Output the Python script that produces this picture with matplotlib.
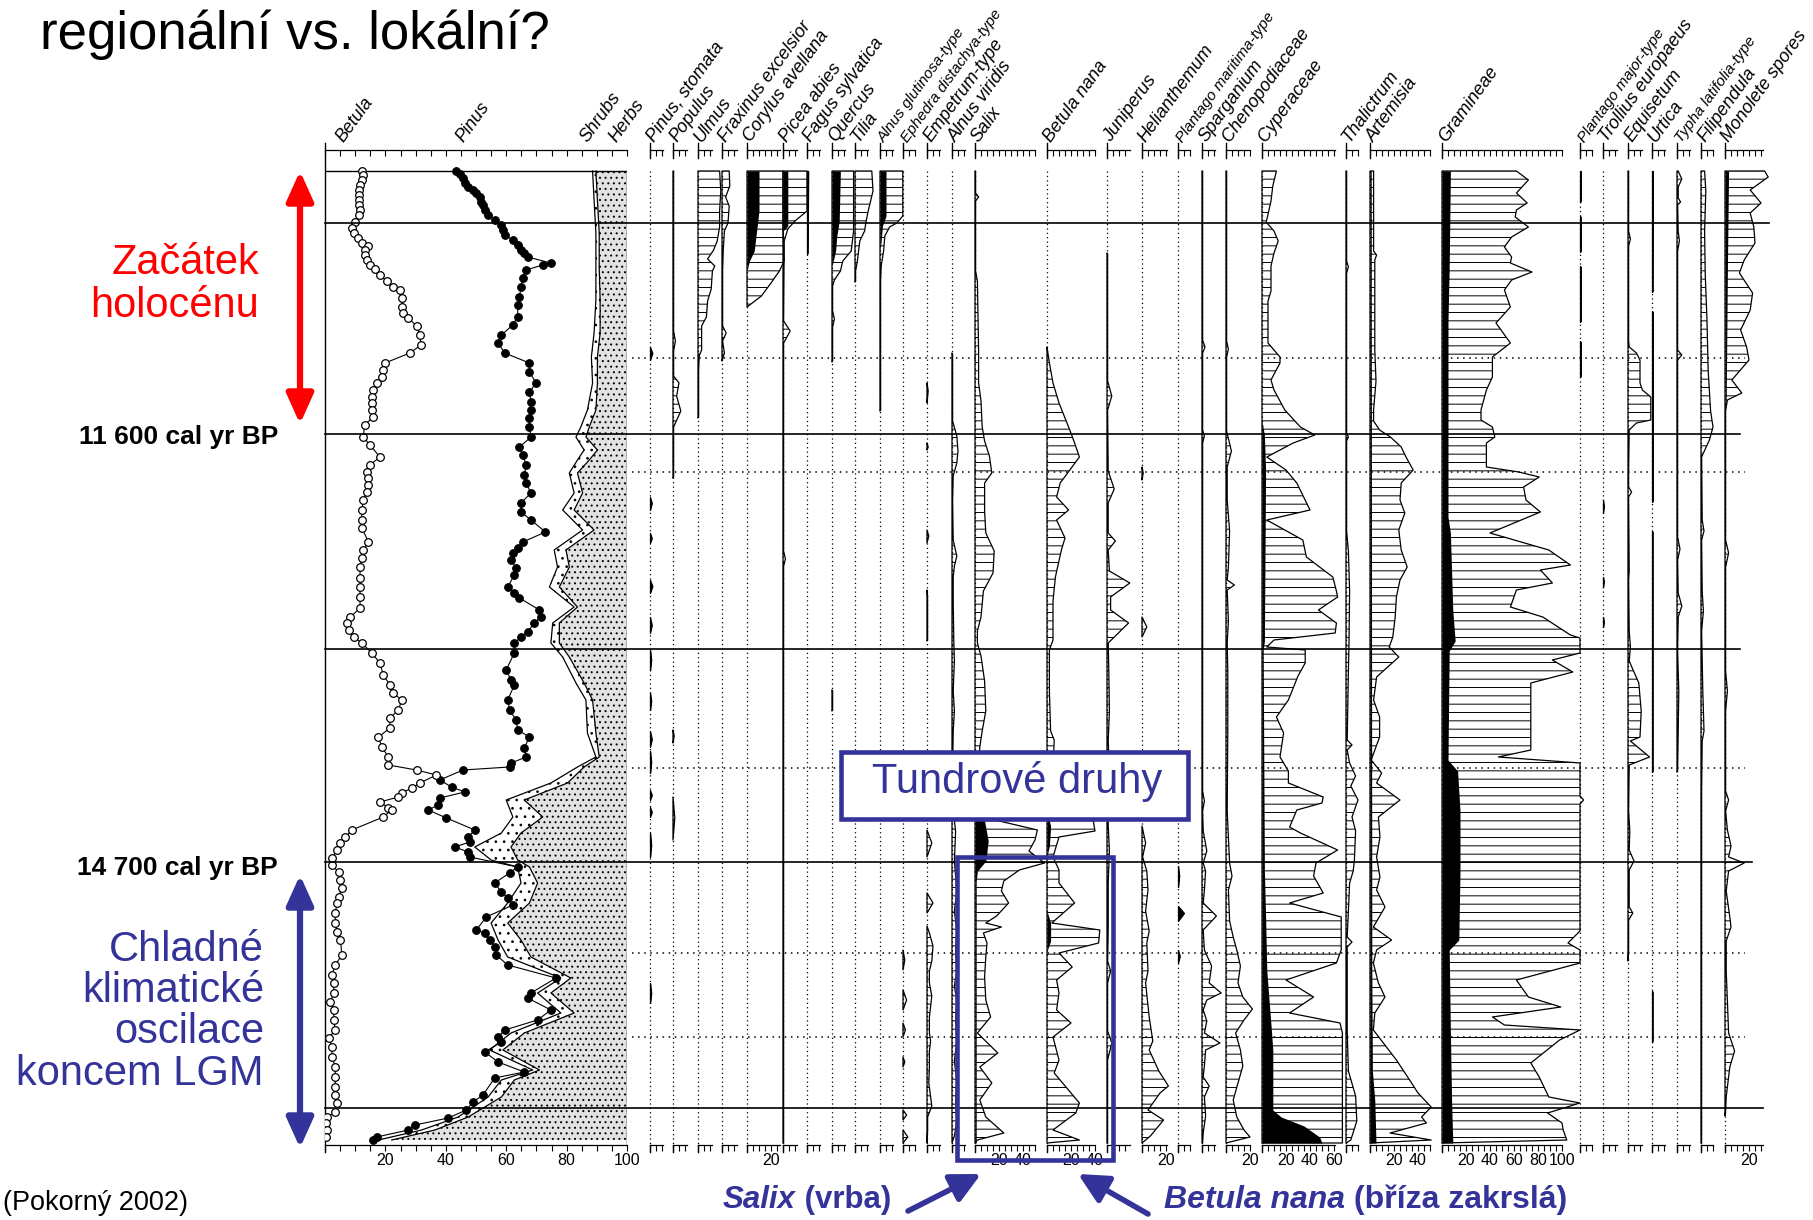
#!/usr/bin/env python3
import matplotlib
matplotlib.use("Agg")
import matplotlib.pyplot as plt
from matplotlib.patches import Rectangle
import numpy as np

plt.rcParams["font.family"] = ["Liberation Sans", "DejaVu Sans"]
plt.rcParams["hatch.linewidth"] = 0.7

W, H = 1813, 1220
TOP, BOT, D0 = 150, 1145, 171     # header axis row, bottom axis row, first sample row (px)
PX_PCT = 1.2                      # px per percent in the taxon panels
BET_X0, BET_W = 325, 302          # Betula/Pinus summary panel
RED = "#ff0000"
BLUE = "#333399"

# depth scale: 0 = top sample, 1 unit = 1 px of the original diagram
ZONES = [52, 263, 478, 691, 937]
ZONE_ENDS = [1769, 1740, 1740, 1752, 1763]
SUBZONES = [187, 301, 597, 782, 866]

# ---- summary diagram (cumulative %) ----
BETULA_DEPTH = [0, 4, 9, 14, 19, 24, 29, 34, 39, 44, 51, 57, 62, 67, 72, 75, 79, 84, 89, 94, 98, 104, 110, 116,
                119, 127, 136, 142, 147, 155, 164, 174, 182, 192, 199, 206, 212, 219, 226, 232, 239, 246, 254,
                266, 274, 286, 294, 301, 307, 314, 321, 329, 339, 349, 357, 371, 379, 387, 396, 407, 416, 426,
                437, 446, 452, 459, 466, 472, 482, 492, 504, 514, 522, 529, 539, 547, 557, 566, 576, 586, 594,
                599, 604, 612, 617, 622, 626, 631, 637, 639, 646, 659, 666, 672, 679, 687, 694, 701, 709, 717,
                726, 732, 742, 752, 761, 769, 784, 794, 804, 812, 822, 831, 839, 849, 859, 867, 876, 886, 896,
                906, 916, 924, 932, 941, 946, 952, 959, 966]
BETULA = [12.2, 12.7, 12.2, 11.6, 11.4, 11.3, 11.1, 11.3, 11.6, 11.1, 10, 9.1, 9.5, 10.9, 12.2, 14.4, 13.1, 13.3,
          13.8, 14.9, 16.6, 18.2, 20.4, 22.6, 24.8, 25.6, 25.4, 25.9, 27.6, 30.3, 31.4, 31.8, 28.1, 19.9, 19.3,
          18.8, 17.1, 16, 15.5, 15.5, 15.5, 16, 13.1, 12.7, 14.9, 18.2, 14.9, 13.8, 14.4, 14.4, 13.8, 12.7, 12.2,
          12.2, 12.2, 14.4, 12.7, 12.2, 11.6, 11.6, 11.6, 11.6, 11.6, 8.4, 7.3, 7.8, 9.5, 12.2, 15.5, 18.2, 19.3,
          21.5, 22.6, 25.4, 24.3, 21.5, 21.5, 17.7, 18.8, 21, 21, 30.3, 36.9, 31.4, 28.7, 25.4, 24.3, 18.2, 21,
          22.1, 19.3, 8.9, 6.7, 5.1, 4, 2.3, 2.3, 4.5, 5.1, 5.6, 4.5, 4, 3.4, 3.4, 4, 5.1, 5.6, 3.4, 2.3, 2.9,
          2.9, 1.8, 2.9, 2.9, 3.4, 1.2, 2.3, 2.3, 3.4, 3.4, 3.4, 3.4, 4, 3.4, 0.7, 0.3, 0.7, 0.3]
PINUS_DEPTH = [0, 3, 7, 12, 16, 19, 22, 26, 31, 34, 39, 44, 49, 54, 59, 64, 69, 74, 79, 82, 86, 92, 94, 99, 107,
               116, 126, 134, 146, 154, 164, 172, 182, 192, 201, 212, 221, 231, 239, 247, 256, 266, 276, 284,
               294, 304, 312, 322, 332, 341, 349, 361, 371, 377, 382, 389, 397, 404, 416, 422, 427, 439, 446,
               452, 461, 466, 472, 482, 499, 509, 514, 529, 539, 549, 559, 566, 577, 586, 592, 596, 599, 609,
               616, 621, 627, 634, 639, 647, 659, 666, 671, 676, 681, 686, 696, 702, 712, 721, 727, 734, 746,
               759, 762, 769, 776, 784, 794, 807, 822, 827, 839, 849, 859, 866, 871, 881, 891, 901, 907, 924,
               931, 939, 947, 954, 959, 966, 969]
PINUS = [43.5, 44.6, 45.7, 46.3, 47.4, 49, 50.1, 51.2, 51.8, 52.3, 52.9, 54, 56.2, 58.4, 58.9, 59.5, 62.2, 63.8,
         64.9, 66, 67.1, 74.8, 72.1, 66.6, 65.5, 64.9, 64.4, 63.8, 63.8, 62.2, 58.4, 57.3, 59.5, 67.7, 67.7,
         69.9, 67.7, 68.2, 68.2, 67.7, 67.7, 68.2, 64.4, 65.5, 66.6, 66, 66.6, 68.2, 64.9, 64.9, 68.2, 73,
         65.5, 63.8, 62.2, 61.6, 63.3, 62.7, 60.5, 62.7, 64.4, 71, 71.5, 69.3, 67.1, 64.9, 62.7, 62.7, 60,
         61.6, 62.7, 60.5, 61.1, 63.3, 63.8, 67.7, 66, 66.6, 61.6, 61.1, 45.7, 38, 41.9, 46.3, 38, 37.5, 34.2,
         40.2, 49.6, 47.4, 47.9, 43, 47.4, 47.9, 63.8, 61.1, 56.2, 58.4, 60.5, 62.2, 53.4, 50.1, 52.9, 54.5,
         56.2, 56.7, 60.5, 76.5, 68.2, 67.1, 74.8, 70.4, 59.5, 57.3, 58.4, 52.9, 57.3, 66, 56.2, 52.3, 49,
         46.8, 40.8, 29.8, 27.6, 17.1, 16]
TREES_DEPTH = [0, 29, 62, 96, 129, 162, 186, 212, 239, 256, 266, 279, 289, 302, 322, 339, 359, 379, 396, 416,
               436, 452, 472, 486, 512, 529, 562, 586, 596, 612, 629, 646, 662, 676, 689, 696, 712, 732, 752,
               769, 786, 807, 822, 842, 862, 879, 899, 909, 926, 946, 959, 969]
TREES = [88.6, 89.1, 89.7, 89.7, 89.7, 89.1, 88.2, 88.6, 86.9, 84.7, 83.1, 85.8, 83.6, 80.9, 82.5, 78.7, 85.3,
         75.9, 77, 74.3, 82.5, 75.4, 74.8, 78.7, 83.1, 86.4, 86.9, 89.7, 83.6, 74.8, 60, 62.2, 58.4, 49.6, 55,
         63.8, 64.9, 60.5, 55, 57.3, 60.5, 78.1, 70.4, 78.1, 61.6, 54.5, 68.8, 58.4, 54, 44.1, 32, 17.7]
SHRUBS = [89.7, 90.2, 90.8, 90.8, 91.1, 91.1, 90.2, 90.2, 89.7, 87.5, 86.4, 90.2, 87.5, 83.6, 85.3, 82.5, 89.1,
          79.8, 80.9, 77.6, 83.6, 77.6, 77.6, 80.9, 85.8, 88.6, 89.7, 90.8, 85.8, 80.3, 66, 72.1, 64.9, 61.6,
          63.8, 67.7, 70.4, 67.7, 60.5, 64.9, 68.2, 81.4, 74.8, 82.5, 66, 58.9, 71, 62.7, 58.4, 47.4, 36.4, 22.1]

# ---- taxon curves: (depth, % as drawn) ----
PINUS_STOMATA = [(0, 0), (176, 0), (182, 2), (189, 0), (326, 0), (332, 1.5), (339, 0), (362, 0), (367, 1.5),
                 (372, 0), (409, 0), (415, 2), (422, 0), (446, 0), (454, 1.5), (462, 0), (479, 0), (489, 1),
                 (499, 0), (522, 0), (530, 1), (539, 0), (560, 0), (568, 1.5), (576, 0), (580, 0), (591, 1),
                 (602, 0), (619, 0), (624, 1.5), (629, 0), (636, 0), (641, 1.5), (646, 0), (662, 0), (674, 1),
                 (686, 0), (812, 0), (822, 1), (832, 0)]
POPULUS = [(0, 0.5), (160, 0.5), (170, 2), (180, 0.5), (205, 0.5), (212, 5), (225, 3), (240, 6.5), (256, 0.5),
           (306, 0.5), (307, 0), (559, 0), (565, 1), (572, 0), (626, 0), (647, 1.5), (669, 0)]
ULMUS = [(0, 18), (20, 19), (40, 18), (56, 18), (70, 16), (79, 13), (88, 8), (95, 14), (100, 12), (118, 11),
         (130, 8), (146, 7), (155, 3), (179, 3), (185, 1), (200, 0.5), (246, 0.5), (247, 0)]
FRAXINUS = [(0, 6), (15, 6.5), (26, 3), (35, 6), (52, 5), (60, 2), (80, 1), (100, 0.5), (155, 0.5), (162, 3.5),
            (170, 0.5), (182, 2), (188, 0.5), (190, 0)]
CORYLUS = [(0, 30), (56, 30), (90, 31), (100, 27), (112, 20), (125, 12), (136, 0)]
CORYLUS_BLACK = [(0, 10), (40, 10), (60, 8), (80, 6), (90, 2), (100, 0)]
PICEA = [(0, 20), (40, 20), (50, 10), (58, 4), (70, 1), (150, 0.5), (160, 6), (172, 0.5), (380, 0.5), (388, 2),
         (395, 0.5), (972, 0.5)]
PICEA_BLACK = [(0, 4), (55, 4), (60, 0)]
FAGUS = [(0, 1), (82, 0.5), (83, 0)]
QUERCUS = [(0, 18), (60, 18), (80, 16), (90, 9), (100, 7), (109, 2), (115, 0.5), (140, 0.5), (148, 2), (156, 0.5),
           (190, 0.5), (191, 0), (519, 0), (520, 0.5), (539, 0.5), (540, 0)]
QUERCUS_BLACK = [(0, 7), (50, 6), (65, 4), (80, 3), (90, 1), (95, 0)]
TILIA = [(0, 14), (20, 15), (40, 11), (52, 9), (60, 8), (70, 4), (90, 2), (100, 0.5), (110, 0.5), (111, 0)]
ALNUS_GLUT = [(0, 19), (45, 19), (52, 14), (56, 8), (65, 4), (80, 3), (95, 1), (110, 0.5), (239, 0.5), (240, 0)]
ALNUS_GLUT_BLACK = [(0, 5), (45, 5), (55, 2), (70, 1), (80, 0)]
EPHEDRA = [(0, 0), (779, 0), (789, 1.5), (799, 0), (819, 0), (829, 3), (839, 0), (852, 0), (859, 2), (866, 0),
           (886, 0), (891, 1.5), (896, 0), (939, 0), (944, 3), (949, 0), (959, 0), (966, 4), (972, 0)]
EMPETRUM = [(0, 0), (212, 0), (220, 1), (232, 0), (272, 0), (276, 1), (279, 0), (359, 0), (365, 1.5), (372, 0),
            (419, 0), (425, 0.5), (469, 0.5), (470, 0), (659, 0), (672, 4), (686, 0), (722, 0), (732, 5),
            (742, 0), (755, 0), (762, 2), (775, 5), (790, 4), (800, 2), (812, 2), (825, 4), (846, 2), (862, 2),
            (870, 3), (880, 2), (896, 2), (912, 1.5), (935, 4), (946, 0.5), (960, 0.5), (972, 0)]
ALNUS_VIR = [(0, 0), (182, 0), (183, 0.5), (250, 0.5), (265, 4), (280, 5), (292, 4), (305, 1), (330, 0.5),
             (369, 1), (385, 4), (395, 2), (406, 1), (430, 1), (470, 1.5), (490, 2), (520, 1), (540, 2),
             (560, 1), (600, 0.5), (640, 1), (660, 3), (690, 2), (720, 4), (740, 2), (760, 4), (780, 3),
             (800, 4), (815, 2), (830, 4), (850, 3), (870, 4), (890, 2), (910, 4), (930, 3), (950, 4),
             (965, 2), (972, 0)]
SALIX = [(0, 0.5), (22, 0.5), (26, 3), (30, 0.5), (100, 0.5), (110, 2), (180, 3), (212, 3), (230, 5), (256, 6),
         (270, 8), (285, 12), (302, 14), (312, 8), (340, 8), (362, 9), (380, 16), (402, 15), (420, 7), (446, 5),
         (460, 2), (472, 2), (485, 5), (510, 8), (540, 9), (560, 6), (576, 4), (600, 3), (630, 4), (646, 6),
         (659, 52), (669, 50), (680, 45), (692, 58), (699, 37), (710, 24), (720, 22), (732, 28), (745, 18),
         (752, 9), (756, 22), (762, 7), (772, 10), (786, 9), (806, 8), (829, 9), (846, 13), (862, 2), (882, 19),
         (896, 4), (912, 14), (929, 4), (946, 9), (962, 24), (969, 2), (972, 0)]
SALIX_BLACK = [(0, 0), (630, 0), (650, 8), (670, 11), (690, 9), (700, 2), (710, 1), (972, 1)]
BETULA_NANA = [(0, 0), (176, 0), (180, 0.5), (192, 2), (212, 5), (232, 10), (259, 19), (272, 23), (286, 27),
               (299, 19), (312, 11), (326, 8), (339, 18), (349, 8), (367, 15), (379, 12), (406, 7), (430, 5),
               (469, 5), (479, 2), (520, 2), (560, 3), (569, 6), (600, 5), (646, 38), (660, 40), (666, 10),
               (686, 5), (699, 10), (712, 10), (732, 23), (752, 4), (759, 44), (772, 43), (782, 10), (796, 21),
               (809, 8), (822, 10), (839, 8), (852, 20), (866, 5), (889, 10), (902, 6), (932, 27), (942, 24),
               (959, 5), (969, 27), (972, 0)]
BETULA_NANA_BLACK = [(0, 0), (640, 0), (655, 3), (675, 2), (685, 0), (740, 0), (752, 3), (770, 3), (780, 0)]
JUNIPERUS = [(0, 0), (82, 0), (83, 0.5), (210, 0.5), (225, 4), (239, 0.5), (300, 1), (318, 6), (332, 1),
             (362, 1), (370, 7), (379, 1), (400, 2), (412, 19), (426, 3), (439, 3), (452, 18), (472, 1),
             (500, 1.5), (540, 2), (570, 1), (600, 2), (640, 0.5), (680, 2), (712, 1), (760, 1), (790, 0.5),
             (800, 3), (812, 0.5), (860, 0.5), (872, 4), (889, 0.5), (972, 0.5)]
HELIANTHEMUM = [(0, 0), (296, 0), (302, 1), (309, 0), (446, 0), (456, 4), (466, 0), (655, 0), (672, 3),
                (686, 0.5), (700, 4), (719, 5), (740, 3), (760, 6), (772, 4), (800, 5), (812, 3), (846, 6),
                (870, 9), (879, 6), (900, 14), (915, 22), (922, 15), (939, 5), (949, 18), (965, 7), (972, 0)]
PLANTAGO_MAR = [(0, 0), (695, 0), (705, 1), (716, 0), (735, 0), (742, 5), (750, 0), (779, 0), (785, 1.5),
                (792, 0)]
SPARGANIUM = [(0, 0.5), (169, 0.5), (176, 2.5), (182, 0.5), (259, 0.5), (265, 2), (272, 0.5), (620, 0.5),
              (630, 2), (640, 0.5), (660, 1), (680, 4), (692, 1), (700, 3), (719, 2), (732, 1), (745, 12),
              (759, 1), (779, 2), (795, 8), (812, 6), (822, 16), (829, 4), (839, 1), (850, 4), (862, 2),
              (872, 15), (879, 3), (895, 2), (906, 1), (915, 6), (926, 2), (945, 3), (962, 1), (972, 0.5)]
CHENOPOD = [(0, 0.5), (170, 0.5), (178, 2), (186, 0.5), (260, 0.5), (280, 4.5), (296, 1), (329, 1), (360, 3),
            (396, 2), (409, 1), (414, 7), (419, 1), (450, 2), (472, 1), (500, 1.5), (560, 1.5), (640, 1),
            (692, 3), (705, 5), (719, 2), (750, 3), (766, 6), (779, 9), (795, 12), (812, 10), (826, 14),
            (838, 22), (849, 15), (862, 8), (879, 12), (895, 14), (912, 10), (929, 6), (946, 9), (959, 15),
            (966, 20), (972, 0)]
CYPERACEAE = [(0, 12), (15, 9), (30, 7.5), (46, 4.5), (51, 3.5), (60, 10), (70, 13.5), (82, 10), (95, 7.5),
              (120, 7.5), (130, 5), (172, 5), (179, 10), (186, 15), (192, 15), (209, 7.5), (219, 10), (239, 19),
              (256, 32), (264, 44), (272, 26), (286, 4), (299, 20), (312, 29), (339, 40), (349, 4), (369, 34),
              (386, 37), (406, 59), (420, 62), (426, 63), (439, 47), (452, 62), (462, 61), (469, 10), (476, 4),
              (479, 36), (492, 36), (505, 30), (529, 22), (546, 12), (562, 18), (586, 15), (600, 22), (612, 22),
              (626, 51), (632, 50), (639, 29), (656, 23), (662, 32), (679, 63), (692, 45), (705, 43), (722, 51),
              (732, 23), (746, 66), (779, 66), (792, 62), (809, 20), (826, 43), (842, 23), (852, 65), (862, 67),
              (972, 67)]
CYPERACEAE_BLACK = [(0, 0), (250, 0), (264, 2), (300, 3), (470, 2), (479, 1), (700, 2), (746, 3), (800, 4),
                    (862, 8), (879, 9), (939, 9), (946, 16), (955, 35), (966, 48), (972, 50)]
THALICTRUM = [(0, 0.5), (90, 0.5), (96, 2), (102, 0.5), (262, 0.5), (266, 2), (270, 0.5), (360, 0.5), (380, 2),
              (420, 3), (472, 2.5), (500, 2), (569, 1), (574, 5), (579, 1), (592, 3), (605, 8), (615, 4),
              (629, 10), (646, 5), (660, 8), (689, 7), (700, 6), (712, 3), (740, 2), (766, 1), (771, 5),
              (776, 1), (800, 1), (860, 1), (900, 2), (925, 8), (950, 9), (969, 4), (972, 0)]
ARTEMISIA = [(0, 3), (80, 3), (84, 5.5), (89, 4), (179, 4), (210, 5), (239, 3), (250, 3), (259, 8), (266, 17),
             (276, 26), (286, 30), (299, 36), (312, 26), (329, 25), (342, 29), (359, 24), (379, 26), (396, 31),
             (409, 25), (426, 22), (446, 21), (466, 19), (476, 16), (486, 24), (506, 5.5), (529, 3), (546, 8),
             (566, 8), (589, 1), (602, 9.7), (612, 5.5), (629, 25), (646, 7), (666, 8.3), (686, 5.5), (706, 8.3),
             (719, 5.5), (736, 12.5), (756, 2.8), (769, 18), (779, 5.5), (792, 2.8), (812, 7), (826, 12.5),
             (842, 4), (859, 2.8), (889, 22), (909, 33), (922, 40), (936, 51), (946, 43), (952, 47), (962, 16.7),
             (969, 51), (972, 0)]
ARTEMISIA_BLACK = [(0, 1), (800, 1.5), (900, 2), (930, 4), (972, 5)]
GRAMINEAE = [(0, 62), (9, 72), (22, 62), (32, 71), (39, 62), (46, 61), (56, 72), (66, 58), (76, 52), (86, 58),
             (92, 57), (101, 75), (109, 58), (119, 52), (136, 57), (152, 45), (172, 57), (186, 42), (206, 42),
             (219, 37), (239, 32.5), (249, 32.5), (256, 42), (266, 44), (272, 37), (296, 37), (301, 64),
             (306, 81), (316, 68), (329, 70), (341, 82), (362, 40), (379, 89), (394, 107), (399, 82), (412, 92),
             (419, 62), (436, 57), (446, 84), (464, 107), (467, 115), (482, 115), (489, 92), (501, 109),
             (512, 74), (579, 74), (586, 47), (592, 115), (625, 115), (629, 118), (633, 115), (760, 115),
             (772, 105), (779, 115), (792, 115), (809, 62), (826, 72), (836, 99), (846, 42), (854, 52),
             (859, 115), (869, 98), (892, 74), (906, 81), (926, 89), (932, 115), (942, 88), (952, 100),
             (959, 101), (969, 104), (972, 0)]
GRAMINEAE_BLACK = [(0, 7), (96, 6), (150, 5), (346, 5), (362, 7), (440, 9), (470, 11), (480, 6), (589, 5),
                   (600, 13), (640, 15), (700, 15), (769, 14), (779, 6), (862, 7), (930, 8), (972, 9)]
PLANTAGO_MAJ = [(0, 0.6), (30, 0.6), (31, 0), (45, 0), (46, 0.6), (80, 0.6), (81, 0), (95, 0), (96, 0.6),
                (150, 0.6), (151, 0), (170, 0), (171, 0.6), (205, 0.6), (206, 0)]
TROLLIUS = [(0, 0), (329, 0), (335, 0.7), (342, 0), (406, 0), (411, 0.7), (416, 0), (446, 0), (451, 0.7), (456, 0)]
EQUISETUM = [(0, 0.5), (60, 0.5), (68, 2), (75, 0.5), (170, 0.5), (176, 1), (182, 7), (189, 10), (212, 10),
             (219, 12), (226, 19), (249, 19), (252, 7), (259, 1), (300, 0.5), (316, 0.5), (321, 3), (326, 0.5),
             (400, 1), (409, 0.5), (460, 1), (476, 2), (490, 1), (512, 9), (540, 11), (566, 10), (570, 2),
             (586, 18), (594, 1), (640, 0.5), (660, 1.5), (679, 1), (690, 5), (699, 1), (736, 1), (742, 4),
             (749, 0.5), (780, 0.5), (790, 0)]
URTICA = [(0, 0.7), (120, 0.5), (121, 0), (140, 0), (141, 0.6), (330, 0.6), (331, 0), (360, 0), (361, 0.5),
          (600, 0.5), (601, 0), (820, 0), (821, 0.5), (870, 0.5), (871, 0)]
TYPHA = [(0, 1), (8, 4), (16, 1), (27, 1), (31, 3), (34, 0.5), (60, 1), (70, 2), (80, 0.5), (179, 0.5), (184, 4),
         (189, 0.5), (300, 0.5), (366, 0.5), (378, 2.5), (389, 0.5), (422, 1), (435, 4), (446, 1), (480, 0.5),
         (520, 1.5), (560, 1), (600, 0.5), (601, 0)]
FILIPENDULA = [(0, 3), (20, 4), (60, 3), (102, 3.5), (150, 5), (200, 6), (240, 8), (256, 10), (269, 7),
               (286, 0.5), (349, 1), (360, 2.5), (369, 0.5), (420, 1), (440, 2), (460, 0.5), (520, 1.5),
               (560, 2.5), (570, 1), (620, 0.5), (972, 0.5)]
MONOLETE = [(0, 33), (6, 36), (19, 21), (32, 30), (42, 21), (56, 24), (72, 25), (89, 16), (102, 12), (122, 23),
            (139, 21), (159, 13), (176, 18), (189, 20), (209, 5.7), (222, 14), (229, 2), (240, 0.5), (369, 0.5),
            (382, 3), (396, 0.5), (500, 0.5), (520, 2), (540, 0.5), (620, 0.5), (629, 3), (640, 0.5), (659, 2),
            (675, 5), (686, 3), (692, 16), (700, 3), (720, 1), (746, 4), (756, 5), (770, 1), (800, 1), (830, 2),
            (862, 3), (880, 8), (896, 4), (926, 1), (940, 0.5), (945, 0)]
MONOLETE_BLACK = [(0, 3), (100, 2), (230, 1), (240, 0)]

# name, baseline x (px), axis length (px), bottom labels, curve, black curve, solid spindles
PANELS = [
    ("Pinus, stomata", 650, 13, [], PINUS_STOMATA, None, True),
    ("Populus", 673, 14, [], POPULUS, None, False),
    ("Ulmus", 698, 14, [], ULMUS, None, False),
    ("Fraxinus excelsior", 722, 15, [], FRAXINUS, None, False),
    ("Corylus avellana", 747, 33, [20], CORYLUS, CORYLUS_BLACK, False),
    ("Picea abies", 783, 14, [], PICEA, PICEA_BLACK, False),
    ("Fagus sylvatica", 807, 13, [], FAGUS, None, True),
    ("Quercus", 832, 13, [], QUERCUS, QUERCUS_BLACK, False),
    ("Tilia", 855, 13, [], TILIA, None, False),
    ("Alnus glutinosa-type", 880, 13, [], ALNUS_GLUT, ALNUS_GLUT_BLACK, False),
    ("Ephedra distachya-type", 903, 12, [], EPHEDRA, None, False),
    ("Empetrum-type", 927, 13, [], EMPETRUM, None, False),
    ("Alnus viridis", 952, 13, [], ALNUS_VIR, None, False),
    ("Salix", 975, 60, [20, 40], SALIX, SALIX_BLACK, False),
    ("Betula nana", 1047, 48, [20, 40], BETULA_NANA, BETULA_NANA_BLACK, False),
    ("Juniperus", 1107, 23, [20], JUNIPERUS, None, False),
    ("Helianthemum", 1142, 25, [20], HELIANTHEMUM, None, False),
    ("Plantago maritima-type", 1178, 12, [], PLANTAGO_MAR, None, True),
    ("Sparganium", 1202, 13, [], SPARGANIUM, None, False),
    ("Chenopodiaceae", 1226, 24, [20], CHENOPOD, None, False),
    ("Cyperaceae", 1262, 73, [20, 40, 60], CYPERACEAE, CYPERACEAE_BLACK, False),
    ("Thalictrum", 1346, 12, [], THALICTRUM, None, False),
    ("Artemisia", 1370, 60, [20, 40], ARTEMISIA, ARTEMISIA_BLACK, False),
    ("Gramineae", 1442, 120, [20, 40, 60, 80, 100], GRAMINEAE, GRAMINEAE_BLACK, False),
    ("Plantago major-type", 1580, 12, [], PLANTAGO_MAJ, None, True),
    ("Trollius europaeus", 1603, 14, [], TROLLIUS, None, True),
    ("Equisetum", 1628, 14, [], EQUISETUM, None, False),
    ("Urtica", 1652, 13, [], URTICA, None, True),
    ("Typha latifolia-type", 1677, 13, [], TYPHA, None, False),
    ("Filipendula", 1701, 12, [], FILIPENDULA, None, False),
    ("Monolete spores", 1725, 38, [20], MONOLETE, MONOLETE_BLACK, False),
]


def present_runs(data):
    d = np.array([p[0] for p in data], dtype=float)
    v = np.array([p[1] for p in data], dtype=float)
    runs, cur = [], []
    for i in range(len(d) - 1):
        if v[i] > 0 or v[i + 1] > 0:
            if not cur:
                cur.append(i)
            cur.append(i + 1)
        elif cur:
            runs.append(cur)
            cur = []
    if cur:
        runs.append(cur)
    return [(d[r], v[r]) for r in runs]


def panel_axes(fig, x, length, xmax, labels):
    ax = fig.add_axes([x / W, 1 - BOT / H, length / W, (BOT - TOP) / H])
    ax.set_xlim(0, xmax)
    ax.set_ylim(BOT - D0, TOP - D0)
    ax.patch.set_visible(False)
    for s in ("left", "right", "top"):
        ax.spines[s].set_visible(False)
    ax.spines["bottom"].set_linewidth(0.9)
    ax.set_yticks([])
    ticks = np.arange(0, xmax + 1e-6, 5)
    ax.set_xticks(ticks, [str(int(t)) if int(t) in labels else "" for t in ticks])
    ax.tick_params(axis="x", direction="out", length=4, width=0.8, pad=1.5, labelsize=11.5)
    top = ax.secondary_xaxis("top")
    top.set_xticks(ticks, [""] * len(ticks))
    top.tick_params(direction="in", length=4, width=0.8)
    top.spines["top"].set_linewidth(0.9)
    return ax


def header_label(fig, x, text):
    size = 11 if len(text) > 18 else 13
    fig.text((x + 7) / W, 1 - 145 / H, text, rotation=54, rotation_mode="anchor", ha="left", va="bottom",
             fontsize=size, style="italic")


def draw_summary(fig):
    ax = panel_axes(fig, BET_X0, BET_W, 100, [20, 40, 60, 80, 100])
    ax.plot([0, 0], [TOP - D0 - 7, BOT - D0 + 7], color="k", lw=1, clip_on=False)
    ax.plot([100, 100], [0, BOT - D0], color="k", lw=1)
    ax.plot([0, 100], [0, 0], color="k", lw=1)
    ax.fill_betweenx(TREES_DEPTH, SHRUBS, 100, facecolor="#e2e2e2", edgecolor="k", hatch="...", lw=0)
    ax.fill_betweenx(TREES_DEPTH, TREES, SHRUBS, facecolor="none", edgecolor="k", hatch="..", lw=0)
    ax.plot(TREES, TREES_DEPTH, color="k", lw=0.9)
    ax.plot(SHRUBS, TREES_DEPTH, color="k", lw=0.9)
    ax.plot(PINUS, PINUS_DEPTH, "-o", color="k", lw=0.8, ms=5.5, mfc="k", mew=0.8)
    ax.plot(BETULA, BETULA_DEPTH, "-o", color="k", lw=0.8, ms=5.5, mfc="white", mew=0.9)
    for x, name in [(340, "Betula"), (460, "Pinus"), (584, "Shrubs"), (613, "Herbs")]:
        header_label(fig, x, name)


def draw_panel(fig, name, x, length, labels, curve, black, solid):
    ax = panel_axes(fig, x, length, length / PX_PCT, labels)
    ax.plot([0, 0], [TOP - D0 - 7, TOP - D0 + 8], color="k", lw=1, clip_on=False)
    ax.plot([0, 0], [0, BOT - D0], color="k", lw=0.9, ls=(0, (1, 2.5)), clip_on=False)
    ax.plot([0, 0], [BOT - D0, BOT - D0 + 7], color="k", lw=1, clip_on=False)
    for d, v in present_runs(curve):
        if solid:
            ax.fill_betweenx(d, 0, v, color="k", lw=0.9, clip_on=False, zorder=3)
        else:
            ax.fill_betweenx(d, 0, v, facecolor="none", edgecolor="k", hatch="--", lw=0.9,
                             clip_on=False, zorder=3)
    if black:
        for d, v in present_runs(black):
            ax.fill_betweenx(d, 0, v, color="k", lw=0, clip_on=False, zorder=4)
    header_label(fig, x, name)


def main():
    fig = plt.figure(figsize=(W / 100, H / 100), dpi=100)
    draw_summary(fig)
    for p in PANELS:
        draw_panel(fig, *p)

    # zone boundaries across the whole diagram
    bg = fig.add_axes([0, 1 - BOT / H, 1, (BOT - TOP) / H])
    bg.set_xlim(0, W)
    bg.set_ylim(BOT - D0, TOP - D0)
    bg.axis("off")
    for z, x1 in zip(ZONES, ZONE_ENDS):
        bg.plot([BET_X0, x1], [z, z], color="k", lw=1.2)
    for z in SUBZONES:
        bg.plot([632, 1745], [z, z], color="k", lw=1.1, ls=(0, (1, 3)))

    # slide annotations (pixel coordinates)
    ov = fig.add_axes([0, 0, 1, 1])
    ov.set_xlim(0, W)
    ov.set_ylim(H, 0)
    ov.axis("off")
    ov.text(40, 49, "regionální vs. lokální?", fontsize=38, va="baseline")
    ov.text(259, 263, "Začátek", color=RED, fontsize=30, ha="right", va="center")
    ov.text(259, 306, "holocénu", color=RED, fontsize=30, ha="right", va="center")
    ov.annotate("", xy=(300, 171), xytext=(300, 424),
                arrowprops=dict(arrowstyle="<|-|>,head_length=1.0,head_width=0.45", color=RED, lw=4.5,
                                mutation_scale=18, shrinkA=0, shrinkB=0))
    for y, line in zip([950, 991, 1032, 1074], ["Chladné", "klimatické", "oscilace", "koncem LGM"]):
        ov.text(264, y, line, color=BLUE, fontsize=30, ha="right", va="center")
    ov.annotate("", xy=(300, 875), xytext=(300, 1148),
                arrowprops=dict(arrowstyle="<|-|>,head_length=1.0,head_width=0.45", color=BLUE, lw=4.5,
                                mutation_scale=18, shrinkA=0, shrinkB=0))
    ov.text(278, 437, "11 600 cal yr BP", fontsize=19, weight="bold", ha="right", va="center")
    ov.text(278, 868, "14 700 cal yr BP", fontsize=19, weight="bold", ha="right", va="center")

    ov.add_patch(Rectangle((841, 752), 347, 67, facecolor="white", edgecolor=BLUE, lw=3.3, zorder=5))
    ov.text(1017, 782, "Tundrové druhy", color=BLUE, fontsize=30, ha="center", va="center", zorder=6)
    ov.add_patch(Rectangle((957, 857), 156, 303, fill=False, edgecolor=BLUE, lw=3.3, zorder=5))

    t1 = ov.text(723, 1200, "Salix", color=BLUE, fontsize=22.5, weight="bold", style="italic", va="center")
    ov.annotate(" (vrba)", xy=(1, 0), xycoords=t1, va="bottom", ha="left", color=BLUE, fontsize=22.5,
                weight="bold")
    t2 = ov.text(1164, 1200, "Betula nana", color=BLUE, fontsize=23, weight="bold", style="italic", va="center")
    ov.annotate(" (bříza zakrslá)", xy=(1, 0), xycoords=t2, va="bottom", ha="left", color=BLUE, fontsize=23,
                weight="bold")
    for tail, head in [((908, 1211), (981, 1174)), ((1148, 1214), (1078, 1174))]:
        ov.annotate("", xy=head, xytext=tail,
                    arrowprops=dict(arrowstyle="-|>,head_length=0.9,head_width=0.45", color=BLUE, lw=4,
                                    mutation_scale=20, shrinkA=0, shrinkB=0))
    ov.text(3, 1203, "(Pokorný 2002)", fontsize=19.5, ha="left", va="center")

    fig.savefig("out.png", dpi=100)


if __name__ == "__main__":
    main()
